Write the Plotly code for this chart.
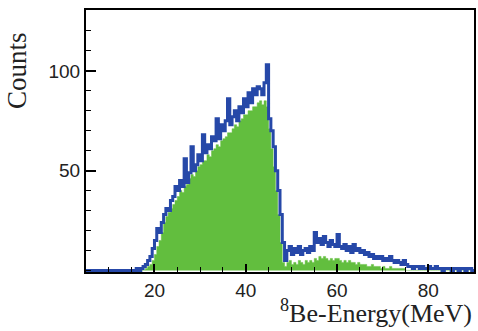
import plotly.graph_objects as go

# Histogram binning (MeV)
bin_low = 5.0
bin_width = 0.5

# Blue histogram (all events), counts per 0.5 MeV bin starting at 5 MeV
blue_counts = [
    0, 0, 0, 0, 0, 0, 0, 0, 0, 0,          # 5.0 - 9.5
    0, 0, 0, 0, 0, 0, 0, 0, 0, 0,          # 10.0 - 14.5
    0, 0, 1, 0, 1, 2, 3, 5, 7, 11,         # 15.0 - 19.5
    15, 21, 19, 24, 28, 31, 30, 35, 37, 42,  # 20.0 - 24.5
    40, 45, 42, 56, 44, 49, 62, 50, 53, 58,  # 25.0 - 29.5
    55, 68, 59, 63, 61, 67, 65, 76, 66, 73,  # 30.0 - 34.5
    70, 75, 86, 73, 77, 80, 75, 82, 79, 86,  # 35.0 - 39.5
    82, 89, 84, 91, 88, 92, 91, 88, 94, 103, # 40.0 - 44.5
    76, 70, 62, 50, 40, 28, 14, 5, 10, 12,   # 45.0 - 49.5
    8, 11, 9, 12, 8, 10, 11, 9, 12, 10,      # 50.0 - 54.5
    19, 14, 16, 13, 17, 14, 12, 15, 13, 12,  # 55.0 - 59.5
    18, 12, 11, 13, 10, 12, 9, 13, 10, 11,   # 60.0 - 64.5
    9, 10, 8, 9, 7, 8, 6, 7, 6, 7,           # 65.0 - 69.5
    5, 6, 5, 7, 5, 4, 5, 4, 3, 5,            # 70.0 - 74.5
    3, 2, 2, 1, 2, 2, 1, 2, 1, 1,            # 75.0 - 79.5
    2, 1, 1, 2, 1, 1, 0, 1, 1, 1,            # 80.0 - 84.5
    0, 1, 1, 0, 1, 1, 0, 1, 1, 0,            # 85.0 - 89.5
]

# Green histogram (selected events), same binning
green_counts = [
    0, 0, 0, 0, 0, 0, 0, 0, 0, 0,            # 5.0 - 9.5
    0, 0, 0, 0, 0, 0, 0, 0, 0, 0,            # 10.0 - 14.5
    0, 0, 0, 0, 0, 0, 1, 2, 3, 5,            # 15.0 - 19.5
    8, 12, 15, 19, 24, 27, 29, 31, 33, 35,   # 20.0 - 24.5
    37, 40, 39, 42, 43, 46, 48, 47, 50, 52,  # 25.0 - 29.5
    53, 55, 55, 58, 57, 60, 61, 63, 62, 65,  # 30.0 - 34.5
    66, 67, 69, 69, 71, 73, 72, 75, 76, 78,  # 35.0 - 39.5
    78, 80, 80, 82, 82, 84, 85, 83, 85, 82,  # 40.0 - 44.5
    71, 61, 52, 40, 28, 14, 4, 2, 4, 5,     # 45.0 - 49.5
    3, 4, 3, 5, 4, 3, 5, 4, 5, 4,            # 50.0 - 54.5
    6, 5, 7, 6, 7, 6, 5, 6, 5, 6,            # 55.0 - 59.5
    6, 5, 4, 5, 4, 5, 4, 4, 3, 4,            # 60.0 - 64.5
    3, 3, 3, 2, 2, 3, 2, 2, 2, 1,            # 65.0 - 69.5
    2, 1, 1, 2, 1, 1, 1, 1, 1, 1,            # 70.0 - 74.5
    0, 0, 0, 0, 0, 0, 0, 0, 0, 0,            # 75.0 - 79.5
    0, 0, 0, 0, 0, 0, 0, 0, 0, 0,            # 80.0 - 84.5
    0, 0, 0, 0, 0, 0, 0, 0, 0, 0,            # 85.0 - 89.5
]

x_tick_vals = [20, 40, 60, 80]
y_tick_vals = [50, 100]

x_title = "<sup>8</sup>Be-Energy(MeV)"
y_title = "Counts"

n = len(blue_counts)
edges = [bin_low + bin_width * i for i in range(n + 1)]
blue_y = blue_counts + [blue_counts[-1]]
green_y = green_counts + [green_counts[-1]]

BLUE = "rgb(38,72,168)"
GREEN = "rgb(98,190,62)"

fig = go.Figure()
fig.add_trace(go.Scatter(
    x=edges, y=green_y, mode="lines", line_shape="hv",
    line=dict(color=GREEN, width=0.5), fill="tozeroy", fillcolor=GREEN,
    hoverinfo="skip", showlegend=False,
))
fig.add_trace(go.Scatter(
    x=edges, y=blue_y, mode="lines", line_shape="hv",
    line=dict(color=BLUE, width=3),
    hoverinfo="skip", showlegend=False,
))

tick_font = dict(family="Liberation Sans, Arial, sans-serif", size=19, color="#222")

fig.update_layout(
    width=478, height=331,
    margin=dict(l=86, r=2, t=10, b=59),
    paper_bgcolor="white", plot_bgcolor="white",
    xaxis=dict(
        range=[5, 90], tickvals=x_tick_vals, ticks="inside", ticklen=8,
        tickwidth=1.5, tickcolor="black", tickfont=tick_font,
        showline=True, linecolor="black", linewidth=2, mirror=True,
        showgrid=False, zeroline=False,
        minor=dict(dtick=5, tick0=0, ticks="inside", ticklen=5,
                   tickwidth=1.2, tickcolor="black", showgrid=False),
    ),
    yaxis=dict(
        range=[-0.8, 130.5], tickvals=y_tick_vals, ticks="inside", ticklen=10,
        tickwidth=1.5, tickcolor="black", tickfont=tick_font,
        showline=True, linecolor="black", linewidth=2, mirror=True,
        showgrid=False, zeroline=False,
        minor=dict(dtick=10, tick0=0, ticks="inside", ticklen=5,
                   tickwidth=1.2, tickcolor="black", showgrid=False),
    ),
    annotations=[
        dict(text=x_title, xref="paper", yref="paper", x=1.0, y=-0.08,
             xanchor="right", yanchor="top", showarrow=False,
             font=dict(family="Liberation Serif, Times New Roman, serif",
                       size=26, color="#222")),
        dict(text=y_title, xref="paper", yref="paper", x=-0.22, y=0.77,
             xanchor="left", yanchor="middle", textangle=-90, showarrow=False,
             font=dict(family="Liberation Serif, Times New Roman, serif",
                       size=27, color="#222")),
    ],
)

fig.write_html("out.html")
